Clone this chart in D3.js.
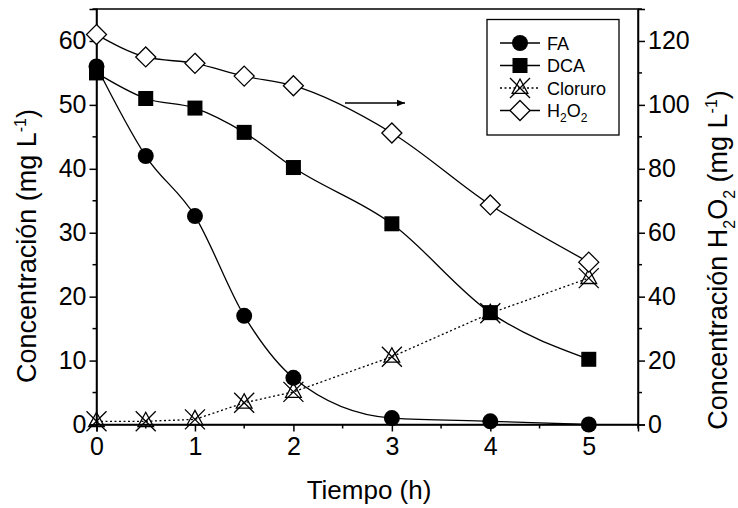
<!DOCTYPE html>
<html>
<head>
<meta charset="utf-8">
<script src="https://cdn.jsdelivr.net/npm/d3@7"></script>
<style>
  html, body { margin: 0; padding: 0; background: #fff; }
  svg text { font-family: "Liberation Sans", Arial, Helvetica, sans-serif; fill: #000; }
</style>
</head>
<body>
<svg id="chart" width="738" height="508"></svg>
<script>
// Sampling times (h)
const tiempo = [0, 0.5, 1, 1.5, 2, 3, 4, 5];
// Concentrations (mg L-1), left axis
const faValues      = [56, 42, 32.6, 17, 7.3, 1, 0.5, 0];
const dcaValues     = [55, 51, 49.5, 45.7, 40.2, 31.4, 17.5, 10.2];
const cloruroValues = [0.5, 0.5, 0.8, 3.4, 5.1, 10.6, 17.4, 22.9];
// H2O2 concentration (mg L-1), right axis
const h2o2Values    = [122, 115, 113, 109, 106, 91.2, 68.7, 50.8];

const xTicks = [0, 1, 2, 3, 4, 5];
const yLeftTicks = [0, 10, 20, 30, 40, 50, 60];
const yRightTicks = [0, 20, 40, 60, 80, 100, 120];

const svg = d3.select("#chart");
const m = { left: 96.5, right: 638, top: 9, bottom: 424.5 };

const x = d3.scaleLinear().domain([0, 5.5]).range([m.left, m.right]);
const yL = d3.scaleLinear().domain([0, 65]).range([m.bottom, m.top]);
const yR = d3.scaleLinear().domain([0, 130]).range([m.bottom, m.top]);

const tickFont = 25;

// frame
svg.append("rect")
  .attr("x", m.left).attr("y", m.top)
  .attr("width", m.right - m.left).attr("height", m.bottom - m.top)
  .attr("fill", "none").attr("stroke", "#000").attr("stroke-width", 1.5);

function styleAxis(g) {
  g.selectAll("path").attr("stroke", "#000").attr("stroke-width", 1.5);
  g.selectAll("line").attr("stroke", "#000").attr("stroke-width", 1.5);
  g.selectAll("text").attr("font-size", tickFont).attr("font-family", "Liberation Sans, Arial, sans-serif");
}

// minor ticks
function minor(scale, values, orient) {
  const g = svg.append("g");
  values.forEach(v => {
    if (orient === "bottom") {
      g.append("line").attr("x1", scale(v)).attr("x2", scale(v))
        .attr("y1", m.bottom).attr("y2", m.bottom + 4)
        .attr("stroke", "#000").attr("stroke-width", 1.5);
    } else if (orient === "left") {
      g.append("line").attr("x1", m.left - 4).attr("x2", m.left)
        .attr("y1", scale(v)).attr("y2", scale(v))
        .attr("stroke", "#000").attr("stroke-width", 1.5);
    } else {
      g.append("line").attr("x1", m.right).attr("x2", m.right + 4)
        .attr("y1", scale(v)).attr("y2", scale(v))
        .attr("stroke", "#000").attr("stroke-width", 1.5);
    }
  });
}

const gx = svg.append("g").attr("transform", `translate(0,${m.bottom})`)
  .call(d3.axisBottom(x).tickValues(xTicks).tickFormat(d3.format("d")).tickSize(7).tickPadding(6));
styleAxis(gx);
minor(x, [0.5, 1.5, 2.5, 3.5, 4.5, 5.5], "bottom");

const gyl = svg.append("g").attr("transform", `translate(${m.left},0)`)
  .call(d3.axisLeft(yL).tickValues(yLeftTicks).tickFormat(d3.format("d")).tickSize(7).tickPadding(3));
styleAxis(gyl);
minor(yL, [5, 15, 25, 35, 45, 55, 65], "left");

const gyr = svg.append("g").attr("transform", `translate(${m.right},0)`)
  .call(d3.axisRight(yR).tickValues(yRightTicks).tickFormat(d3.format("d")).tickSize(7).tickPadding(3));
styleAxis(gyr);
minor(yR, [10, 30, 50, 70, 90, 110, 130], "right");

// axis titles
svg.append("text")
  .attr("x", 369).attr("y", 499)
  .attr("text-anchor", "middle").attr("font-size", 26)
  .text("Tiempo (h)");

const tl = svg.append("text")
  .attr("transform", `translate(36,246) rotate(-90)`)
  .attr("text-anchor", "middle").attr("font-size", 27);
tl.append("tspan").text("Concentración (mg L");
tl.append("tspan").attr("dy", -10).attr("font-size", 16).text("-1");
tl.append("tspan").attr("dy", 10).text(")");

const tr = svg.append("text")
  .attr("transform", `translate(727,260) rotate(-90)`)
  .attr("text-anchor", "middle").attr("font-size", 27);
tr.append("tspan").text("Concentración H");
tr.append("tspan").attr("dy", 8).attr("font-size", 16).text("2");
tr.append("tspan").attr("dy", -8).text("O");
tr.append("tspan").attr("dy", 8).attr("font-size", 16).text("2");
tr.append("tspan").attr("dy", -8).text(" (mg L");
tr.append("tspan").attr("dy", -10).attr("font-size", 16).text("-1");
tr.append("tspan").attr("dy", 10).text(")");

// series lines
const plot = svg.append("g");
const pts = (vals, ys) => tiempo.map((t, i) => [x(t), ys(vals[i])]);

const smooth = d3.line().curve(d3.curveMonotoneX);
const straight = d3.line();

plot.append("path").attr("d", smooth(pts(faValues, yL)))
  .attr("fill", "none").attr("stroke", "#000").attr("stroke-width", 1.3);
plot.append("path").attr("d", smooth(pts(dcaValues, yL)))
  .attr("fill", "none").attr("stroke", "#000").attr("stroke-width", 1.3);
plot.append("path").attr("d", straight(pts(cloruroValues, yL)))
  .attr("fill", "none").attr("stroke", "#000").attr("stroke-width", 1.3)
  .attr("stroke-dasharray", "2,2.5");
plot.append("path").attr("d", smooth(pts(h2o2Values, yR)))
  .attr("fill", "none").attr("stroke", "#000").attr("stroke-width", 1.3);

// marker shapes
function circle(g, cx, cy) {
  g.append("circle").attr("cx", cx).attr("cy", cy).attr("r", 8).attr("fill", "#000");
}
function square(g, cx, cy) {
  g.append("rect").attr("x", cx - 7.5).attr("y", cy - 7.5).attr("width", 15).attr("height", 15).attr("fill", "#000");
}
function diamond(g, cx, cy) {
  const r = 10;
  g.append("path").attr("d", `M${cx},${cy - r}L${cx + r},${cy}L${cx},${cy + r}L${cx - r},${cy}Z`)
    .attr("fill", "#fff").attr("stroke", "#000").attr("stroke-width", 1.3);
}
function triX(g, cx, cy) {
  const r = 9;
  g.append("path").attr("d", `M${cx},${cy - r}L${cx + r * 0.87},${cy + r * 0.6}L${cx - r * 0.87},${cy + r * 0.6}Z`)
    .attr("fill", "none").attr("stroke", "#000").attr("stroke-width", 1.3);
  const s = 10;
  g.append("path").attr("d", `M${cx - s},${cy - s}L${cx + s},${cy + s}M${cx + s},${cy - s}L${cx - s},${cy + s}`)
    .attr("fill", "none").attr("stroke", "#000").attr("stroke-width", 1.3);
}

tiempo.forEach((t, i) => triX(plot, x(t), yL(cloruroValues[i])));
tiempo.forEach((t, i) => diamond(plot, x(t), yR(h2o2Values[i])));
tiempo.forEach((t, i) => square(plot, x(t), yL(dcaValues[i])));
tiempo.forEach((t, i) => circle(plot, x(t), yL(faValues[i])));

// arrow pointing to the right-hand axis
svg.append("defs").append("marker")
  .attr("id", "arrowHead").attr("viewBox", "0 0 10 10").attr("refX", 10).attr("refY", 5)
  .attr("markerWidth", 10).attr("markerHeight", 8).attr("markerUnits", "userSpaceOnUse")
  .attr("orient", "auto")
  .append("path").attr("d", "M0,1L10,5L0,9Z").attr("fill", "#000");
svg.append("line").attr("x1", 345).attr("x2", 405).attr("y1", 103).attr("y2", 103)
  .attr("stroke", "#000").attr("stroke-width", 1.3).attr("marker-end", "url(#arrowHead)");

// legend
const lg = svg.append("g");
lg.append("rect").attr("x", 487).attr("y", 19.5).attr("width", 132).attr("height", 115.5)
  .attr("fill", "#fff").attr("stroke", "#000").attr("stroke-width", 1.3);
const legendItems = [
  { name: "FA", draw: circle, dash: null },
  { name: "DCA", draw: square, dash: null },
  { name: "Cloruro", draw: triX, dash: "2,2.5" },
  { name: "H2O2", draw: diamond, dash: null }
];
legendItems.forEach((d, i) => {
  const cy = 43 + i * 22.5;
  lg.append("line").attr("x1", 500).attr("x2", 540).attr("y1", cy).attr("y2", cy)
    .attr("stroke", "#000").attr("stroke-width", 1.3).attr("stroke-dasharray", d.dash);
  d.draw(lg, 520, cy);
  const tx = lg.append("text").attr("x", 547).attr("y", cy + 6.5).attr("font-size", 18);
  if (d.name === "H2O2") {
    tx.append("tspan").text("H");
    tx.append("tspan").attr("dy", 5).attr("font-size", 12).text("2");
    tx.append("tspan").attr("dy", -5).text("O");
    tx.append("tspan").attr("dy", 5).attr("font-size", 12).text("2");
  } else {
    tx.text(d.name);
  }
});
</script>
</body>
</html>
